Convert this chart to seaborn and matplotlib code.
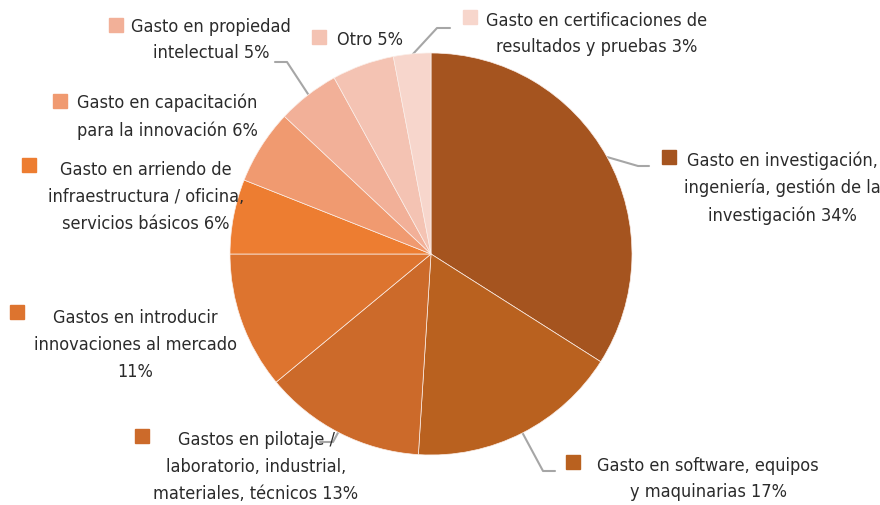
import matplotlib
matplotlib.use("Agg")
import matplotlib.pyplot as plt
import seaborn as sns

# datos del gráfico
categorias = [
    "Gasto en investigación,\ningeniería, gestión de la\ninvestigación",
    "Gasto en software, equipos\ny maquinarias",
    "Gastos en pilotaje /\nlaboratorio, industrial,\nmateriales, técnicos",
    "Gastos en introducir\ninnovaciones al mercado\n",
    "Gasto en arriendo de\ninfraestructura / oficina,\nservicios básicos",
    "Gasto en capacitación\npara la innovación",
    "Gasto en propiedad\nintelectual",
    "Otro",
    "Gasto en certificaciones de\nresultados y pruebas",
]
porcentajes = [34, 17, 13, 11, 6, 6, 5, 5, 3]
colores = ["#A5541F", "#B9611F", "#CC6A2A", "#DD742F", "#ED7D31",
           "#F09A70", "#F2B098", "#F4C3B3", "#F7D6CC"]

W, H = 880, 506
sns.set_style("white")
plt.rcParams["font.family"] = ["DejaVu Sans"]
plt.rcParams["font.stretch"] = "condensed"

fig = plt.figure(figsize=(W / 100, H / 100), dpi=100)
ax = fig.add_axes([0, 0, 1, 1])

ax.pie(porcentajes, colors=colores, startangle=90, counterclock=False,
       center=(431, H - 255), radius=201,
       wedgeprops=dict(edgecolor="#fbeee8", linewidth=0.5))
ax.set_xlim(0, W)
ax.set_ylim(0, H)
ax.set_aspect("equal")
ax.axis("off")

# posiciones de etiquetas (pixeles de imagen): centro texto, cuadro
pos_texto = [(782, 188), (708, 479), (256, 467), (135, 345), (146, 197),
             (167, 117), (211, 40), (370, 40), (597, 34)]
pos_cuadro = [(669, 158), (573, 463), (142, 437), (17, 313), (29, 166),
              (60, 102), (116, 26), (319, 38), (470, 18)]
guias = {
    0: [(607, 158), (638, 167), (649, 167)],
    1: [(522, 433), (543, 472), (555, 472)],
    2: [(340, 430), (333, 443), (320, 443)],
    6: [(308, 95), (287, 63), (275, 63)],
    8: [(413, 55), (437, 29), (450, 29)],
}

for i, (nombre, v) in enumerate(zip(categorias, porcentajes)):
    sep = "" if nombre.endswith("\n") else " "
    txt = f"{nombre}{sep}{v}%"
    x, y = pos_texto[i]
    ax.text(x, H - y, txt, ha="center", va="center", multialignment="center",
            fontsize=13, color="#2b2b2b", linespacing=1.63,
            fontstretch="condensed")
    cx, cy = pos_cuadro[i]
    ax.plot(cx, H - cy, marker="s", markersize=9.5, color=colores[i],
            linestyle="none")
    if i in guias:
        xs = [p[0] for p in guias[i]]
        ys = [H - p[1] for p in guias[i]]
        ax.plot(xs, ys, color="#A6A6A6", linewidth=1.5, zorder=0.5)

plt.savefig("out.png", dpi=100)
